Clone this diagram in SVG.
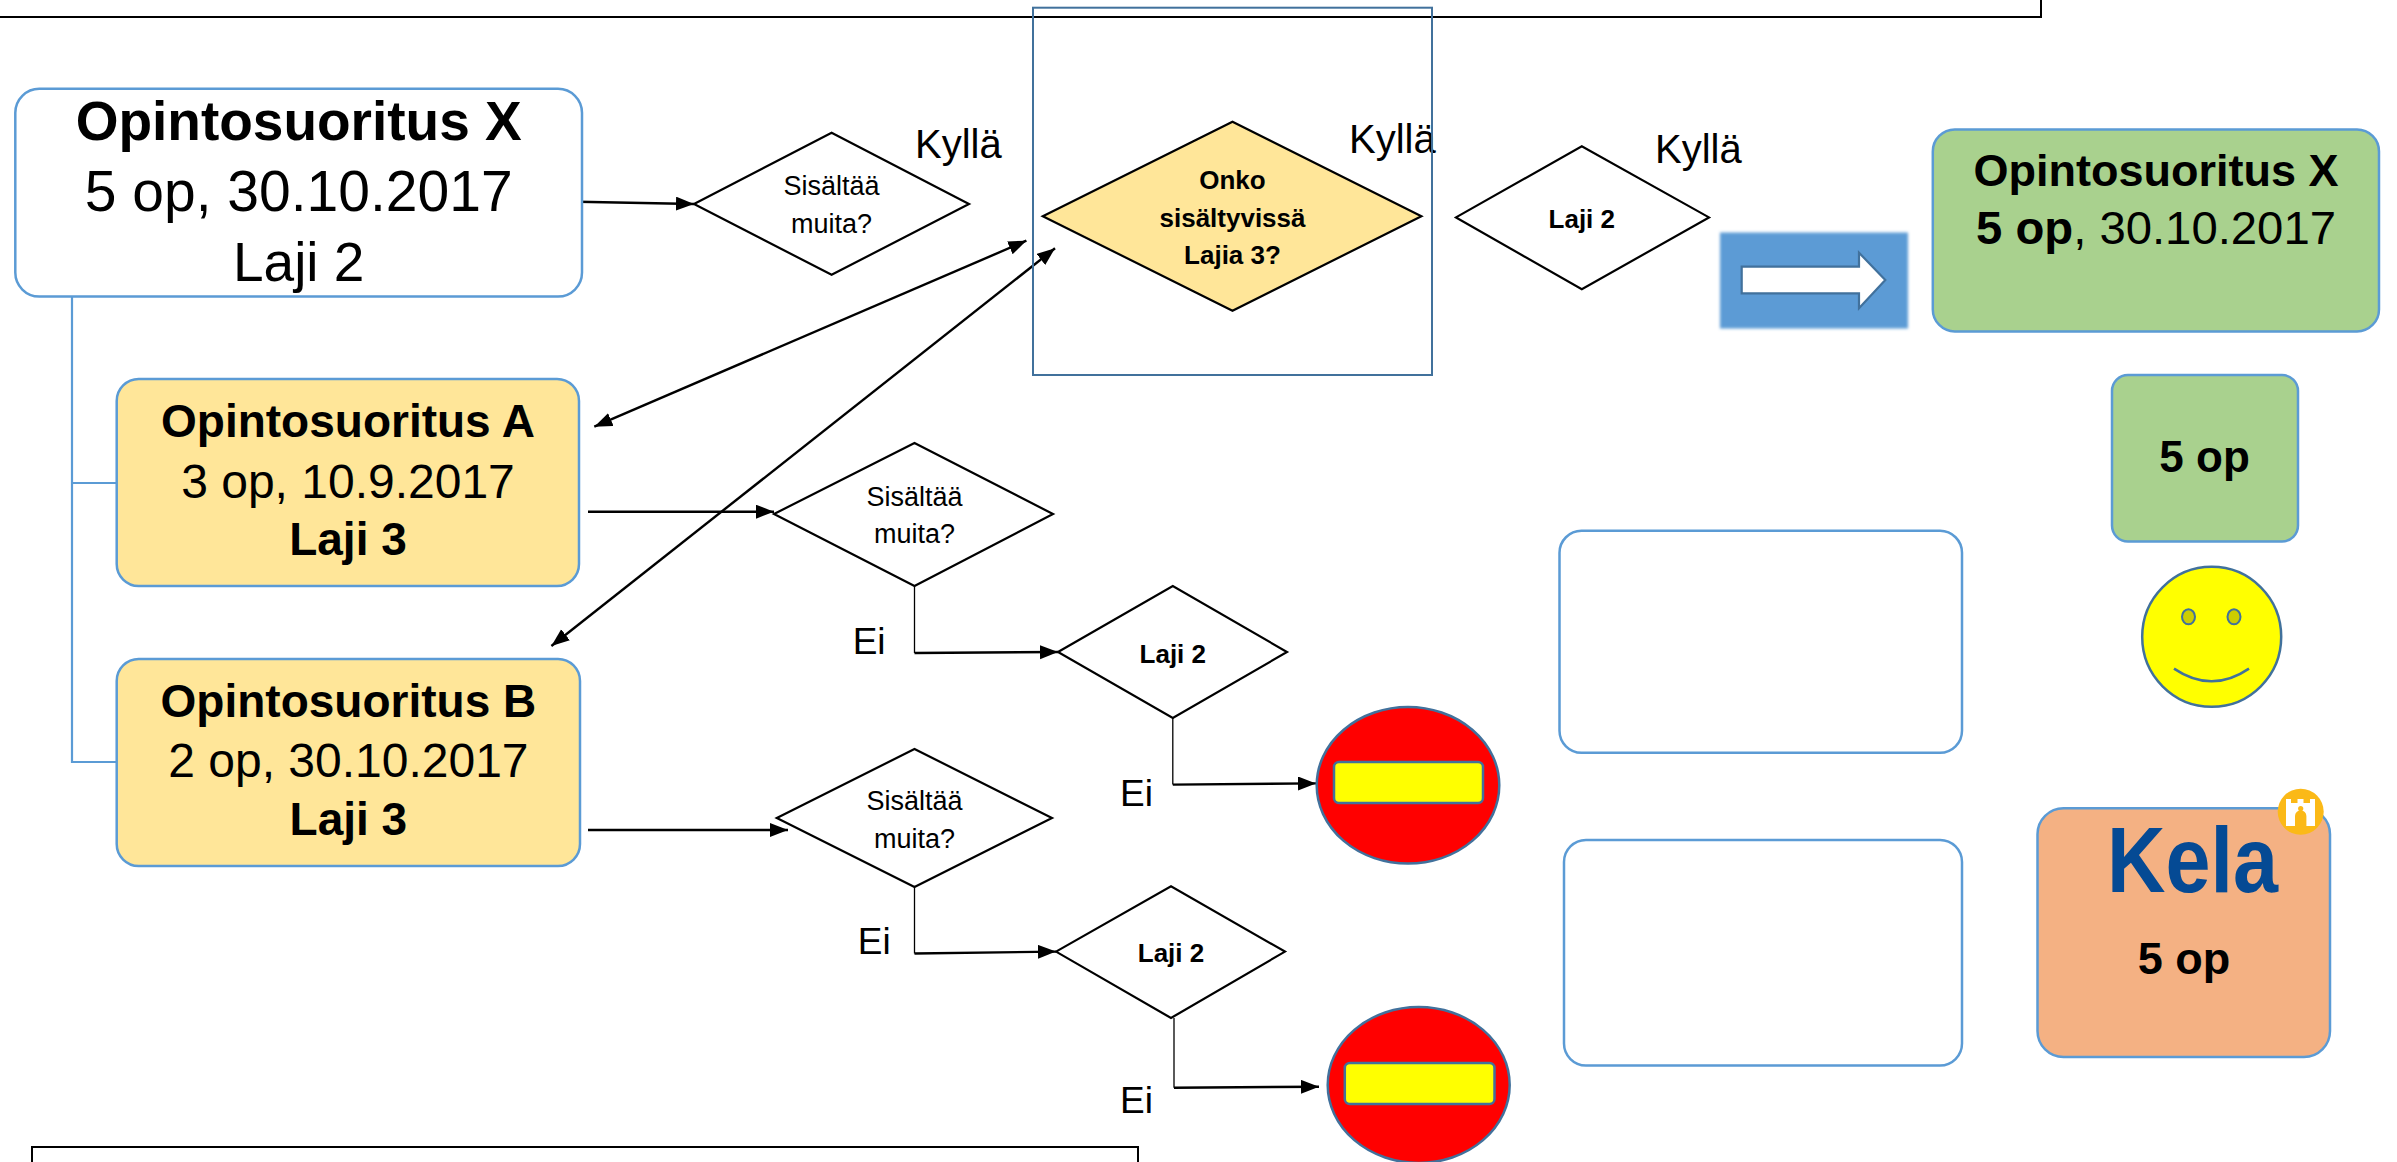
<svg xmlns="http://www.w3.org/2000/svg" width="2397" height="1162" viewBox="0 0 2397 1162">
<defs>
<style>
text{font-family:"Liberation Sans",Arial,sans-serif;fill:#000}
.b{font-weight:bold}
.box{stroke:#5B9BD5;stroke-width:2.5}
.dia{fill:#fff;stroke:#000;stroke-width:2.2}
.ln{fill:none;stroke:#000;stroke-width:2.4}
.thin{fill:none;stroke:#000;stroke-width:1.3}
.mid{text-anchor:middle}
.stop{fill:#FF0000;stroke:#41719C;stroke-width:2.5}
.bar{fill:#FFFF00;stroke:#41719C;stroke-width:2.5}
</style>
<marker id="ah" markerUnits="userSpaceOnUse" markerWidth="20" markerHeight="16" refX="18" refY="7" orient="auto-start-reverse">
<path d="M0,0 L18,7 L0,14 Z" fill="#000"/>
</marker>
<filter id="soft" x="-5%" y="-5%" width="110%" height="110%">
<feGaussianBlur stdDeviation="1.6"/>
</filter>
</defs>
<rect width="2397" height="1162" fill="#fff"/>

<g id="frame-top"><path d="M0 17 H2041 V0" fill="none" stroke="#000" stroke-width="2"/></g>
<g id="frame-bottom"><path d="M32 1163 V1147 H1138 V1163" fill="none" stroke="#000" stroke-width="2"/></g>

<g id="connectors">
<path d="M72 297 V762 H117 M72 483 H117" fill="none" stroke="#5B9BD5" stroke-width="2.2"/>
<line class="ln" x1="578" y1="201.7" x2="694" y2="204" marker-end="url(#ah)"/>
<line class="ln" x1="588" y1="511.7" x2="774" y2="511.7" marker-end="url(#ah)"/>
<line class="ln" x1="588" y1="830" x2="788" y2="830" marker-end="url(#ah)"/>
<line class="ln" x1="594.3" y1="426.7" x2="1026.4" y2="240.7" marker-start="url(#ah)" marker-end="url(#ah)"/>
<line class="ln" x1="551.4" y1="646" x2="1055" y2="248.3" marker-start="url(#ah)" marker-end="url(#ah)"/>
<path class="thin" d="M914.5 586 V653"/>
<line class="ln" x1="914.5" y1="653" x2="1058" y2="652" marker-end="url(#ah)"/>
<path class="thin" d="M1172.8 718 V784.6"/>
<line class="ln" x1="1172.8" y1="784.6" x2="1316" y2="783.4" marker-end="url(#ah)"/>
<path class="thin" d="M914.5 887 V953.5"/>
<line class="ln" x1="914.5" y1="953.5" x2="1056" y2="951.6" marker-end="url(#ah)"/>
<path class="thin" d="M1174 1018 V1087.8"/>
<line class="ln" x1="1174" y1="1087.8" x2="1319" y2="1086.7" marker-end="url(#ah)"/>
</g>

<g id="labels">
<text x="915" y="157.7" font-size="40">Kyllä</text>
<text x="1349" y="153" font-size="40">Kyllä</text>
<text x="1655" y="162.6" font-size="40">Kyllä</text>
<text x="852.7" y="654" font-size="37">Ei</text>
<text x="1120" y="805.7" font-size="37">Ei</text>
<text x="857.8" y="953.5" font-size="37">Ei</text>
<text x="1120" y="1112.8" font-size="37">Ei</text>
</g>

<g id="box-x">
<rect class="box" x="15.3" y="88.8" width="566.7" height="207.8" rx="24" fill="#fff"/>
<text class="b mid" x="298.7" y="140" font-size="55">Opintosuoritus X</text>
<text class="mid" x="298.7" y="210.5" font-size="57">5 op, 30.10.2017</text>
<text class="mid" x="298.7" y="281" font-size="55">Laji 2</text>
</g>

<g id="box-a">
<rect class="box" x="116.7" y="379" width="462.3" height="207" rx="22" fill="#FFE699"/>
<text class="b mid" x="348" y="437" font-size="46">Opintosuoritus A</text>
<text class="mid" x="348" y="497.5" font-size="48">3 op, 10.9.2017</text>
<text class="b mid" x="348" y="555" font-size="46">Laji 3</text>
</g>

<g id="box-b">
<rect class="box" x="116.7" y="659" width="463.3" height="207" rx="22" fill="#FFE699"/>
<text class="b mid" x="348.4" y="717.4" font-size="46">Opintosuoritus B</text>
<text class="mid" x="348.4" y="777" font-size="48">2 op, 30.10.2017</text>
<text class="b mid" x="348.4" y="835" font-size="46">Laji 3</text>
</g>

<g id="dec-x">
<polygon class="dia" points="694,204 831.6,132.8 969,204 831.6,274.8"/>
<text class="mid" x="831.6" y="195" font-size="27">Sisältää</text>
<text class="mid" x="831.6" y="232.7" font-size="27">muita?</text>
</g>

<g id="dec-onko">
<rect x="1033" y="7.7" width="399" height="367.3" fill="none" stroke="#41719C" stroke-width="2"/>
<polygon points="1042.8,216.2 1232.5,121.7 1421.4,216.2 1232.5,310.8" fill="#FFE699" stroke="#000" stroke-width="2.2"/>
<text class="b mid" x="1232.5" y="188.7" font-size="26">Onko</text>
<text class="b mid" x="1232.5" y="226.6" font-size="26">sisältyvissä</text>
<text class="b mid" x="1232.5" y="264" font-size="26">Lajia 3?</text>
</g>

<g id="dec-laji-top">
<polygon class="dia" points="1456,217.4 1581.8,146.2 1709,217.4 1581.8,289.3"/>
<text class="b mid" x="1581.8" y="227.7" font-size="26">Laji 2</text>
</g>

<g id="result-arrow">
<rect x="1720" y="232.5" width="188" height="96" fill="#5B9BD5" filter="url(#soft)"/>
<path d="M1741.7 266.7 H1859 V252.7 L1885.3 280 L1859 308.3 V293.3 H1741.7 Z" fill="#fff" stroke="#41719C" stroke-width="2.2"/>
</g>

<g id="result-x">
<rect class="box" x="1932.8" y="129.4" width="446.2" height="202" rx="22" fill="#A9D18E"/>
<text class="b mid" x="2156" y="186.4" font-size="45">Opintosuoritus X</text>
<text class="mid" x="2156" y="243.8" font-size="47" textLength="360" lengthAdjust="spacingAndGlyphs"><tspan class="b">5 op</tspan>, 30.10.2017</text>
</g>

<g id="result-5op">
<rect class="box" x="2112" y="375" width="186" height="166.5" rx="16" fill="#A9D18E"/>
<text class="b mid" x="2204.6" y="471.5" font-size="44">5 op</text>
</g>

<g id="smiley">
<ellipse cx="2211.7" cy="636.8" rx="69.5" ry="70" fill="#FFFF00" stroke="#41719C" stroke-width="2.5"/>
<ellipse cx="2188.5" cy="616.8" rx="6.5" ry="7.5" fill="#CDCD00" stroke="#41719C" stroke-width="2"/>
<ellipse cx="2234" cy="616.8" rx="6.5" ry="7.5" fill="#CDCD00" stroke="#41719C" stroke-width="2"/>
<path d="M2174 668.6 Q2211.7 694 2249 668.6" fill="none" stroke="#41719C" stroke-width="2.5"/>
</g>

<g id="dec-a">
<polygon class="dia" points="774,514 914.5,443 1053,514 914.5,586"/>
<text class="mid" x="914.5" y="506" font-size="27">Sisältää</text>
<text class="mid" x="914.5" y="543" font-size="27">muita?</text>
</g>

<g id="dec-laji-a">
<polygon class="dia" points="1058,652 1172.8,586 1287,652 1172.8,718"/>
<text class="b mid" x="1172.8" y="663" font-size="26">Laji 2</text>
</g>

<g id="stop-a">
<ellipse class="stop" cx="1408" cy="785.3" rx="91.3" ry="78.3"/>
<rect class="bar" x="1334" y="762" width="149" height="41" rx="5"/>
</g>

<g id="dec-b">
<polygon class="dia" points="776.8,818 914.5,749 1052,818 914.5,887"/>
<text class="mid" x="914.5" y="809.5" font-size="27">Sisältää</text>
<text class="mid" x="914.5" y="848" font-size="27">muita?</text>
</g>

<g id="dec-laji-b">
<polygon class="dia" points="1056,951.6 1171,886.3 1285,951.6 1171,1018"/>
<text class="b mid" x="1171" y="962.3" font-size="26">Laji 2</text>
</g>

<g id="stop-b">
<ellipse class="stop" cx="1418.7" cy="1085" rx="91" ry="78"/>
<rect class="bar" x="1344.8" y="1063" width="149.7" height="41" rx="5"/>
</g>

<g id="empty-1"><rect class="box" x="1559.5" y="530.8" width="402.5" height="222" rx="22" fill="#fff"/></g>
<g id="empty-2"><rect class="box" x="1564" y="840" width="398" height="225.6" rx="22" fill="#fff"/></g>

<g id="kela">
<rect class="box" x="2037.5" y="808.3" width="292.5" height="248.7" rx="26" fill="#F4B183"/>
<text class="b mid" x="2192.5" y="891.7" font-size="92" fill="#054A94" style="fill:#054A94" textLength="171" lengthAdjust="spacingAndGlyphs">Kela</text>
<circle cx="2300.7" cy="811.7" r="23" fill="#FBB917"/>
<path d="M2286 826 V799 H2291 V803 H2297.5 V799 H2303.5 V803 H2310 V799 H2315 V826 Z" fill="#fff"/>
<path d="M2295 826 V816 A5.7 5.7 0 0 1 2306.4 816 V826 Z" fill="#FBB917"/>
<circle cx="2300.7" cy="808.5" r="2.6" fill="#FBB917"/>
<text class="b mid" x="2184" y="974" font-size="45">5 op</text>
</g>
</svg>
